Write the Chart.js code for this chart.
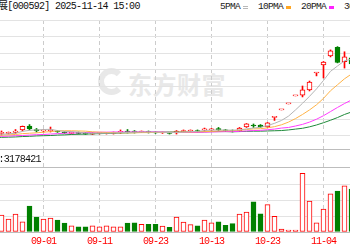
<!DOCTYPE html>
<html>
<head>
<meta charset="utf-8">
<script src="https://cdn.jsdelivr.net/npm/chart.js@4.4.0/dist/chart.umd.min.js"></script>
<style>
  html, body { margin: 0; padding: 0; background: #fff; }
  #wrap { position: relative; width: 350px; height: 250px; overflow: hidden; }
  .txt { position: absolute; white-space: nowrap; font-family: "Liberation Mono", "Noto Sans CJK SC", monospace;
         font-size: 10px; line-height: 10px; letter-spacing: -0.7px; color: #111; }
  .leg { font-size: 9.5px; color: #222; }
  .sw { position: absolute; top: 6px; width: 5px; height: 3px; }
  #wm { position: absolute; left: 128px; top: 66px; font: bold 24px "Noto Sans CJK SC"; color: #e8e8e8; letter-spacing: 0.5px; white-space: nowrap; }
  #logo { position: absolute; left: 98px; top: 68px; width: 15px; height: 15px; border: 6px solid #e8e8e8; border-right-color: transparent; border-radius: 50%; }
  canvas { position: absolute; left: 0; }
</style>
</head>
<body>
<div id="wrap">
  <div id="logo"></div>
  <div id="wm">东方财富</div>

  <div class="txt" style="left:-30px; top:2px">平潭发展[000592] 2025-11-14 15:00</div>

  <div class="txt leg" style="left:220px; top:2px">5PMA</div>
  <div class="sw" style="left:243px; height:1px; border-top:1px solid #b8b8b8; border-bottom:1px solid #b8b8b8;"></div>
  <div class="txt leg" style="left:258px; top:2px">10PMA</div>
  <div class="sw" style="left:286px; background:#ffa624;"></div>
  <div class="txt leg" style="left:301px; top:2px">20PMA</div>
  <div class="sw" style="left:329px; background:#ff22ff;"></div>
  <div class="txt leg" style="left:344px; top:2px">30PMA</div>

  <canvas id="price" width="350" height="129" style="top:20px"></canvas>
  <canvas id="vol" width="350" height="101" style="top:149px"></canvas>
  <div class="txt" style="left:-1.5px; top:154.5px">:3178421</div>
</div>

<script>
// trading days (index = position on the x axis)
const dates = ['08-21','08-22','08-25','08-26','08-27','08-28','08-29',
  '09-01','09-02','09-03','09-04','09-05','09-08','09-09','09-10','09-11',
  '09-12','09-15','09-16','09-17','09-18','09-19','09-22','09-23',
  '09-24','09-25','09-26','09-29','09-30','10-09','10-10','10-13',
  '10-14','10-15','10-16','10-17','10-20','10-21','10-22','10-23',
  '10-24','10-27','10-28','10-29','10-30','10-31','11-03','11-04',
  '11-05','11-06','11-07','11-10'];

const opens  = [2.87,2.90,2.90,2.95,3.07,3.26,3.09,3.02,3.04,3.02,2.97,2.90,2.95,2.92,2.87,2.90,
  2.89,2.90,2.95,3.02,2.99,2.97,2.99,2.97,2.92,2.92,2.92,2.99,3.02,3.04,3.07,3.07,
  3.14,3.07,3.04,3.02,3.21,3.28,3.31,3.21,3.68,4.04,4.33,4.72,4.76,5.01,5.83,6.22,
  6.66,7.07,6.38,6.56];
const closes = [2.90,2.92,2.95,3.02,3.24,3.12,3.02,3.07,3.07,2.97,2.92,2.95,2.90,2.87,2.92,2.92,
  2.93,2.95,2.99,2.95,2.97,2.99,2.95,2.92,2.95,2.90,3.02,3.04,3.04,2.99,3.12,3.12,
  3.07,3.02,2.99,3.16,3.36,3.26,3.21,3.41,3.70,4.04,4.33,4.72,5.01,5.39,5.86,6.36,
  6.91,6.34,6.61,6.27];
const highs  = [2.92,3.02,2.97,3.09,3.26,3.33,3.14,3.07,3.21,3.04,2.99,2.97,2.97,2.95,2.95,2.95,
  2.95,2.97,3.07,3.09,3.04,3.02,3.02,2.99,2.97,2.95,3.04,3.07,3.07,3.07,3.16,3.14,
  3.19,3.09,3.07,3.19,3.38,3.36,3.33,3.43,3.70,4.04,4.33,4.72,5.20,5.44,5.86,6.39,
  6.95,7.11,6.86,6.70];
const lows   = [2.82,2.82,2.87,2.90,3.02,3.07,2.97,2.97,2.97,2.95,2.90,2.87,2.87,2.85,2.85,2.87,
  2.87,2.87,2.90,2.92,2.92,2.95,2.92,2.90,2.90,2.87,2.87,2.97,2.99,2.97,3.02,3.04,
  3.04,2.99,2.97,2.99,3.19,3.19,3.19,3.19,3.53,4.04,4.33,4.72,4.67,4.96,5.69,5.59,
  6.61,6.32,6.07,6.17];

// volume, 手
const volumes = [1000000,1060000,810000,1125000,640000,1625000,940000,810000,875000,750000,
  560000,390000,330000,330000,390000,330000,390000,330000,330000,560000,580000,480000,
  480000,480000,375000,290000,940000,625000,460000,390000,750000,580000,640000,420000,
  520000,1125000,1250000,1890000,1140000,1710000,980000,190000,125000,125000,3670000,
  1940000,580000,1440000,2390000,2560000,2890000,2690000];

// moving averages
const ma5  = [2.85,2.86,2.88,2.91,3.00,3.05,3.07,3.09,3.10,3.04,3.00,2.99,2.96,2.92,2.91,2.91,
  2.91,2.92,2.94,2.95,2.96,2.97,2.97,2.96,2.96,2.94,2.95,2.96,2.99,3.00,3.04,3.06,
  3.07,3.06,3.06,3.07,3.12,3.16,3.20,3.28,3.39,3.53,3.74,4.04,4.36,4.70,5.06,5.47,
  5.91,6.17,6.42,6.50];
const ma10 = [2.81,2.82,2.83,2.85,2.89,2.91,2.93,2.96,2.99,3.02,3.03,3.03,3.02,3.01,2.98,2.96,
  2.95,2.94,2.93,2.93,2.93,2.94,2.94,2.95,2.95,2.95,2.96,2.97,2.97,2.98,2.99,3.00,
  3.02,3.03,3.03,3.06,3.09,3.12,3.13,3.17,3.23,3.32,3.45,3.62,3.82,4.04,4.29,4.60,
  4.97,5.26,5.55,5.78];
const ma20 = [2.75,2.76,2.77,2.79,2.80,2.82,2.84,2.85,2.87,2.89,2.91,2.92,2.93,2.94,2.95,2.96,
  2.96,2.97,2.97,2.97,2.98,2.98,2.98,2.98,2.97,2.95,2.95,2.95,2.95,2.95,2.96,2.97,
  2.98,2.99,2.99,3.00,3.02,3.04,3.05,3.08,3.11,3.16,3.19,3.26,3.34,3.45,3.59,3.76,
  3.96,4.16,4.35,4.52];
const ma30 = [2.70,2.71,2.72,2.73,2.75,2.76,2.78,2.79,2.80,2.82,2.83,2.85,2.86,2.87,2.88,2.89,
  2.90,2.91,2.92,2.93,2.94,2.95,2.95,2.96,2.96,2.97,2.97,2.97,2.97,2.97,2.98,2.99,
  2.99,2.99,2.98,2.99,3.00,3.01,3.01,3.02,3.03,3.04,3.07,3.11,3.15,3.22,3.31,3.42,
  3.54,3.67,3.82,3.94];

const labelIdx   = [7, 15, 23, 31, 39, 47];
const priceTicks = [2.8, 3.6, 4.4, 5.2, 6.0, 6.8, 7.6, 8.4];
const volTicks   = [0, 1000000, 2000000, 3000000, 4000000];

// view window: 50 trading days across the 350px strip
const xMin = 5.5 / 7, xMax = xMin + 50;
const priceMax = 8.4, priceMin = 8.4 - 129 / 20.625;
const volMax = 4000000 * 83 / 64;

const UP = '#ff0000', DOWN = '#008000';
const colorOf = dates.map((d, i) => closes[i] >= opens[i] ? UP : DOWN);
const fillOf = colorOf.map(c => c === UP ? '#ffffff' : DOWN);

// tighter letters for the axis labels
const tight = { id: 'tight', beforeDraw(chart) { chart.ctx.letterSpacing = '-1px'; } };

function xScale(showLabels) {
  return {
    type: 'linear', min: xMin, max: xMax, offset: false, bounds: 'data',
    afterBuildTicks: s => { s.ticks = labelIdx.map(v => ({ value: v })); },
    ticks: {
      display: showLabels, autoSkip: false, maxRotation: 0, padding: 3,
      color: '#ff0000', font: { family: 'Liberation Mono', size: 10 },
      callback: v => dates[v]
    },
    grid: { color: '#cccccc', drawTicks: false, offset: false },
    border: { display: false, dash: [4, 3] },
    afterFit: s => { s.height = showLabels ? 18 : 0; s.paddingLeft = 0; s.paddingRight = 0; }
  };
}

function maLine(values, color) {
  return {
    type: 'line', data: values.map((v, i) => ({ x: i, y: v })),
    borderColor: color, borderWidth: 1, pointRadius: 0, tension: 0, order: 0
  };
}

new Chart(document.getElementById('price'), {
  data: {
    datasets: [
      maLine(ma5, '#b4b4b4'),
      maLine(ma10, '#ffb347'),
      maLine(ma20, '#ff3cff'),
      maLine(ma30, '#1f8a3a'),
      {
        type: 'bar', label: 'body',
        data: dates.map((d, i) => ({ x: i, y: [opens[i], closes[i]] })),
        backgroundColor: fillOf, borderColor: colorOf, borderWidth: 1,
        borderSkipped: false, barThickness: 5, minBarLength: 1, grouped: false, order: 1
      },
      {
        type: 'bar', label: 'wick',
        data: dates.map((d, i) => ({ x: i, y: [lows[i], highs[i]] })),
        backgroundColor: colorOf, borderWidth: 0,
        barThickness: 1, grouped: false, order: 2
      }
    ]
  },
  options: {
    responsive: false, animation: false, events: [],
    layout: { padding: 0 },
    plugins: { legend: { display: false }, tooltip: { enabled: false } },
    scales: {
      x: xScale(false),
      y: {
        min: priceMin, max: priceMax,
        afterBuildTicks: s => { s.ticks = priceTicks.map(v => ({ value: v })); },
        ticks: { display: false },
        grid: { color: '#e3e3e3', drawTicks: false },
        border: { display: false },
        afterFit: s => { s.width = 0; }
      }
    }
  }
});

new Chart(document.getElementById('vol'), {
  type: 'bar',
  data: {
    datasets: [{
      data: volumes.map((v, i) => ({ x: i, y: v })),
      backgroundColor: fillOf, borderColor: colorOf, borderWidth: 1,
      borderSkipped: false, barThickness: 5
    }]
  },
  options: {
    responsive: false, animation: false, events: [],
    layout: { padding: 0 },
    plugins: { legend: { display: false }, tooltip: { enabled: false } },
    scales: {
      x: xScale(true),
      y: {
        min: 0, max: volMax,
        afterBuildTicks: s => { s.ticks = volTicks.concat([volMax]).map(v => ({ value: v })); },
        ticks: { display: false },
        grid: {
          drawTicks: false,
          color: ctx => (ctx.tick.value === 0 || ctx.tick.value >= 4000000) ? '#bdbdbd' : '#e3e3e3'
        },
        border: { display: false },
        afterFit: s => { s.width = 0; }
      }
    }
  },
  plugins: [tight]
});
</script>
</body>
</html>
